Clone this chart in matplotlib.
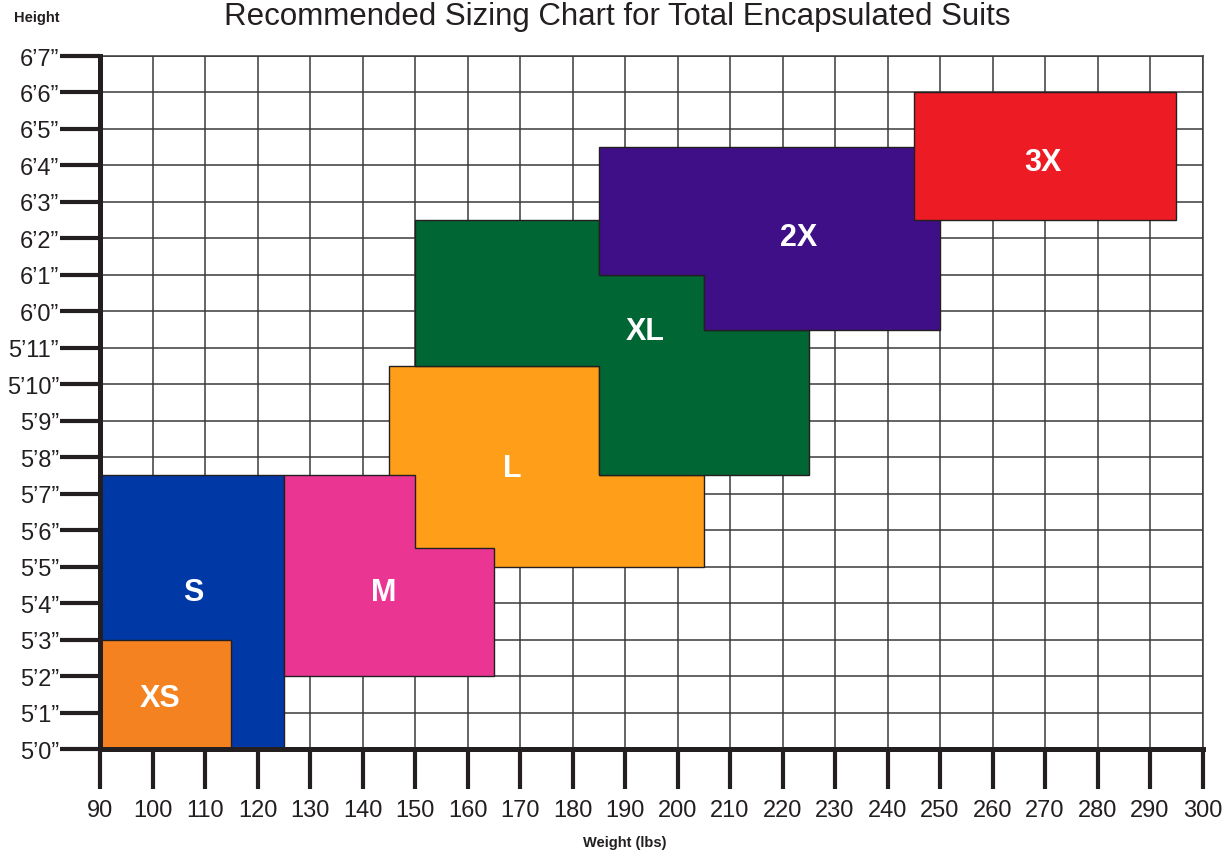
"""
Recommended sizing chart for total encapsulated suits.
Weight (lbs) vs. height, one stepped block per suit size.
"""

import matplotlib

matplotlib.use("Agg")

import matplotlib.pyplot as plt
from matplotlib.patches import Polygon

plt.rcParams["font.family"] = ["Liberation Sans", "DejaVu Sans"]

# === data ===
# heights are in inches (60 = 5'0")
sizes = ["S", "XS", "L", "M", "XL", "2X", "3X"]  # draw order, later on top
size_colors = ["#0039A6", "#F58220", "#FF9E18", "#EA3593", "#006633", "#3F0F87", "#ED1C24"]

# outline corners per size: (weight lbs, height in)
outline_s = [(90, 60), (125, 60), (125, 67.5), (90, 67.5)]
outline_xs = [(90, 60), (115, 60), (115, 63), (90, 63)]
outline_l = [(145, 65), (205, 65), (205, 67.5), (185, 67.5), (185, 70.5), (145, 70.5)]
outline_m = [(125, 62), (165, 62), (165, 65.5), (150, 65.5), (150, 67.5), (125, 67.5)]
outline_xl = [(150, 70.5), (185, 70.5), (185, 67.5), (225, 67.5), (225, 71.5),
              (205, 71.5), (205, 73), (185, 73), (185, 74.5), (150, 74.5)]
outline_2x = [(185, 73), (205, 73), (205, 71.5), (250, 71.5), (250, 76.5), (185, 76.5)]
outline_3x = [(245, 74.5), (295, 74.5), (295, 78), (245, 78)]
outlines = [outline_s, outline_xs, outline_l, outline_m, outline_xl, outline_2x, outline_3x]

# where each size name sits
label_weight = [107.7, 101.4, 168.5, 144.1, 193.8, 223.0, 269.6]
label_height = [64.3, 61.4, 67.7, 64.3, 71.45, 74.05, 76.1]

weight_ticks = list(range(90, 301, 10))
height_ticks = list(range(60, 80))
height_labels = [f"{h // 12}\u2019{h % 12}\u201d" for h in height_ticks]

title = "Recommended Sizing Chart for Total Encapsulated Suits"


def main() -> None:
    fig = plt.figure(figsize=(12.32, 8.53), dpi=100)
    ax = fig.add_axes([100 / 1232, 103 / 853, 1102.5 / 1232, 693 / 853])

    ink = "#231F20"

    # grid every 10 lbs / 1 inch
    ax.set_xlim(90, 300)
    ax.set_ylim(60, 79)
    ax.set_xticks(weight_ticks)
    ax.set_yticks(height_ticks)
    ax.set_yticklabels(height_labels)
    ax.grid(True, color="#3a3a3a", linewidth=1.1)
    ax.set_axisbelow(True)

    for name, color, pts, lx, ly in zip(sizes, size_colors, outlines, label_weight, label_height):
        ax.add_patch(Polygon(pts, closed=True, facecolor=color, edgecolor=ink,
                             linewidth=1.0, zorder=2))
        ax.text(lx, ly, name, color="white", fontsize=22, fontweight="bold",
                ha="center", va="center", zorder=3)

    # axes styling
    for side in ["top", "right"]:
        ax.spines[side].set_color("#3a3a3a")
        ax.spines[side].set_linewidth(1.1)
    for side in ["left", "bottom"]:
        ax.spines[side].set_color(ink)
        ax.spines[side].set_linewidth(3.6)
        ax.spines[side].set_zorder(4)
    ax.tick_params(which="major", length=28.5, width=3.0, color=ink, labelsize=17,
                   labelcolor=ink)
    ax.tick_params(axis="x", which="major", pad=7.5)
    ax.tick_params(axis="y", which="major", pad=1)

    fig.text(617 / 1232, 1 - 17 / 853, title, fontsize=22.5, color=ink,
             ha="center", va="center")
    fig.text(14 / 1232, 1 - 18 / 853, "Height", fontsize=10.5, fontweight="bold",
             color=ink, ha="left", va="center")
    fig.text(625 / 1232, 1 - 843 / 853, "Weight (lbs)", fontsize=10.5, fontweight="bold",
             color=ink, ha="center", va="center")

    fig.savefig("out.png", dpi=100)


if __name__ == "__main__":
    main()
